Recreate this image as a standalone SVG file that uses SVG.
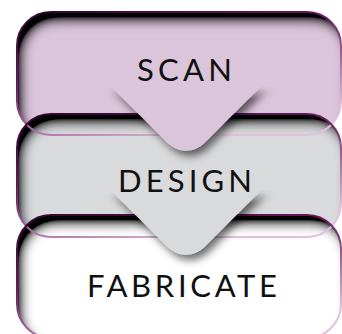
<svg xmlns="http://www.w3.org/2000/svg" width="342" height="334" viewBox="0 0 342 334">
  <defs>
    <linearGradient id="edge" x1="0" y1="0" x2="0.6" y2="1">
      <stop offset="0" stop-color="#2e0429"/>
      <stop offset="0.45" stop-color="#6a1a62"/>
      <stop offset="1" stop-color="#e2bfe0"/>
    </linearGradient>
    <linearGradient id="fade" gradientUnits="userSpaceOnUse" x1="0" y1="86" x2="0" y2="100">
      <stop offset="0" stop-color="#fff" stop-opacity="0"/>
      <stop offset="1" stop-color="#fff" stop-opacity="1"/>
    </linearGradient>
    <mask id="m" maskUnits="userSpaceOnUse" x="0" y="0" width="342" height="334">
      <rect x="0" y="86" width="342" height="120" fill="url(#fade)"/>
    </mask>
    <filter id="inner" x="-5%" y="-10%" width="110%" height="120%">
      <feOffset in="SourceAlpha" dx="6" dy="10" result="off"/>
      <feGaussianBlur in="off" stdDeviation="5.5" result="blur"/>
      <feComposite in="SourceAlpha" in2="blur" operator="out" result="inv"/>
      <feComponentTransfer in="inv" result="inv2">
        <feFuncA type="linear" slope="1.2"/>
      </feComponentTransfer>
      <feFlood flood-color="#000" flood-opacity="1"/>
      <feComposite in2="inv2" operator="in" result="shadow"/>
      <feMerge>
        <feMergeNode in="SourceGraphic"/>
        <feMergeNode in="shadow"/>
      </feMerge>
    </filter>
    <filter id="drop" x="-30%" y="-30%" width="160%" height="160%">
      <feDropShadow dx="4" dy="5" stdDeviation="4.5" flood-color="#000" flood-opacity="0.6"/>
    </filter>
    <path id="chev" d="M 106.5,82 L 167.6,143.1 A 26 26 0 0 0 204.4,143.1 L 265.5,82 Z"/>
    <style>
      .box { stroke: none; }
      .edge { fill: none; stroke: url(#edge); stroke-width: 2; }
      .lbl { font-family: Lato, "Liberation Sans", sans-serif; font-size: 31px; fill: #111; }
    </style>
  </defs>

  <g id="fills">
    <rect class="box" x="17" y="12" width="324" height="123" rx="34" fill="#dbc5da" filter="url(#inner)"/>
    <rect class="box" x="17" y="114" width="324" height="123" rx="34" fill="#d9dadc" filter="url(#inner)"/>
    <rect class="box" x="17" y="215" width="324" height="123" rx="34" fill="#ffffff" filter="url(#inner)"/>
  </g>

  <g id="outlines">
    <rect class="edge" x="17" y="12" width="324" height="123" rx="34"/>
    <rect class="edge" x="17" y="114" width="324" height="123" rx="34"/>
    <rect class="edge" x="17" y="215" width="324" height="123" rx="34"/>
  </g>

  <g id="connectors">
    <g mask="url(#m)">
      <use href="#chev" fill="#dbc5da" filter="url(#drop)"/>
    </g>
    <g transform="translate(0 104)">
      <g mask="url(#m)">
        <use href="#chev" fill="#d9dadc" filter="url(#drop)"/>
      </g>
    </g>
  </g>

  <g id="scan">
    <text class="lbl" x="137" y="81" textLength="95" lengthAdjust="spacing">SCAN</text>
  </g>
  <g id="design">
    <text class="lbl" x="118" y="192" textLength="134" lengthAdjust="spacing">DESIGN</text>
  </g>
  <g id="fabricate">
    <text class="lbl" x="87" y="297" textLength="190" lengthAdjust="spacing">FABRICATE</text>
  </g>
</svg>
